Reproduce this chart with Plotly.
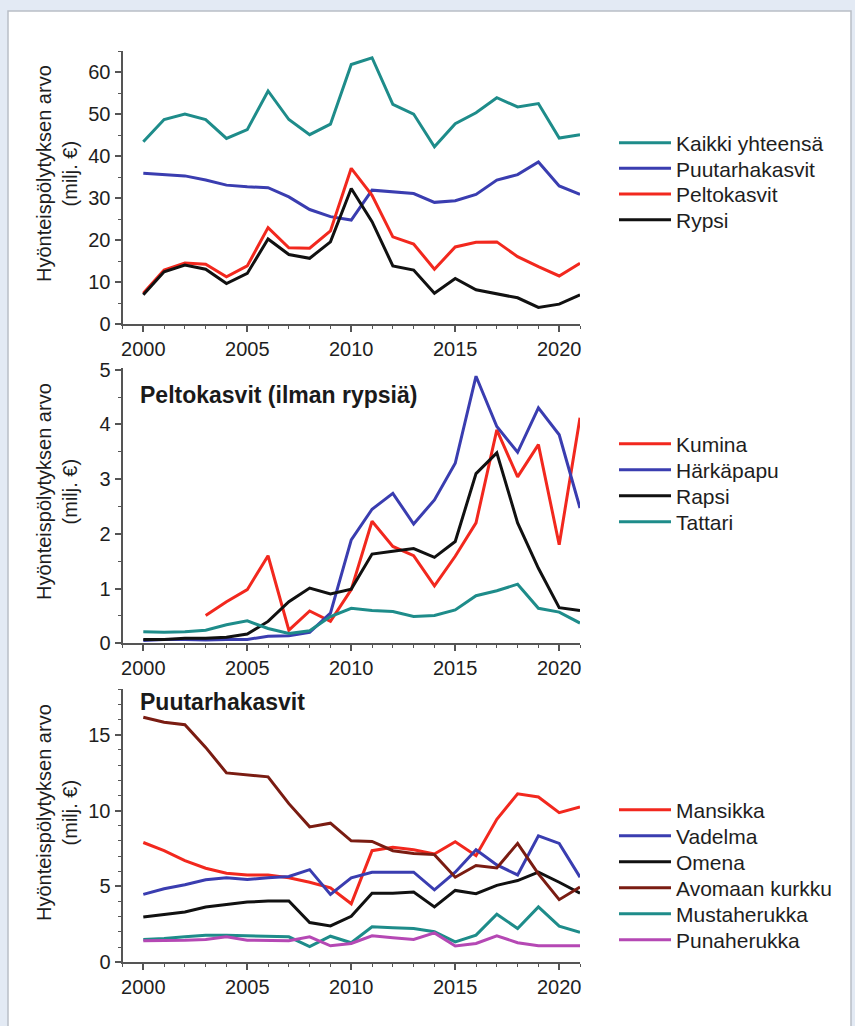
import plotly.graph_objects as go

years = list(range(2000, 2022))

# Panel 1 (milj. €)
kaikki = [43.4, 48.7, 50.0, 48.7, 44.2, 46.3, 55.5, 48.7, 45.1, 47.6, 61.8, 63.4,
          52.3, 50.0, 42.2, 47.7, 50.3, 53.9, 51.7, 52.5, 44.3, 45.1]
puutarha = [35.9, 35.6, 35.3, 34.3, 33.1, 32.7, 32.5, 30.3, 27.3, 25.6, 24.8, 31.9,
            31.5, 31.1, 29.0, 29.4, 30.9, 34.3, 35.6, 38.6, 32.9, 30.9]
pelto = [7.4, 12.9, 14.6, 14.3, 11.3, 13.9, 23.0, 18.2, 18.1, 22.2, 37.1, 30.7,
         20.8, 19.1, 13.1, 18.4, 19.5, 19.6, 16.1, 13.7, 11.5, 14.5]
rypsi = [7.0, 12.5, 14.1, 13.1, 9.7, 12.1, 20.3, 16.6, 15.7, 19.6, 32.3, 24.4,
         13.9, 12.9, 7.4, 10.9, 8.2, 7.2, 6.3, 4.0, 4.8, 7.0]

# Panel 2 (milj. €)
kumina = [None, None, None, 0.51, 0.76, 0.98, 1.60, 0.24, 0.59, 0.40, 0.98, 2.23,
          1.77, 1.60, 1.05, 1.59, 2.20, 3.90, 3.04, 3.63, 1.80, 4.12]
harkapapu = [0.05, 0.07, 0.07, 0.06, 0.07, 0.07, 0.13, 0.14, 0.20, 0.55, 1.89, 2.45,
             2.74, 2.18, 2.62, 3.29, 4.88, 3.96, 3.49, 4.30, 3.81, 2.47]
rapsi = [0.07, 0.07, 0.09, 0.09, 0.11, 0.17, 0.40, 0.76, 1.01, 0.90, 0.99, 1.63,
         1.68, 1.73, 1.57, 1.86, 3.10, 3.48, 2.20, 1.37, 0.65, 0.60]
tattari = [0.21, 0.20, 0.21, 0.24, 0.34, 0.41, 0.27, 0.18, 0.23, 0.49, 0.64, 0.60,
           0.58, 0.49, 0.51, 0.61, 0.87, 0.96, 1.08, 0.64, 0.57, 0.37]

# Panel 3 (milj. €)
mansikka = [7.90, 7.36, 6.70, 6.20, 5.87, 5.76, 5.76, 5.57, 5.28, 4.91, 3.86, 7.36,
            7.58, 7.42, 7.14, 7.95, 7.03, 9.43, 11.11, 10.90, 9.87, 10.24]
vadelma = [4.48, 4.85, 5.11, 5.44, 5.57, 5.46, 5.57, 5.66, 6.11, 4.48, 5.57, 5.94,
           5.94, 5.94, 4.78, 5.94, 7.42, 6.42, 5.76, 8.34, 7.84, 5.61]
omena = [2.99, 3.14, 3.32, 3.65, 3.82, 3.97, 4.04, 4.04, 2.62, 2.40, 3.03, 4.56,
         4.56, 4.63, 3.65, 4.74, 4.52, 5.07, 5.39, 5.94, 5.28, 4.56]
kurkku = [16.16, 15.83, 15.66, 14.17, 12.49, 12.34, 12.23, 10.46, 8.93, 9.17, 8.01, 7.97,
          7.36, 7.18, 7.10, 5.61, 6.38, 6.22, 7.84, 5.83, 4.13, 4.96]
mustaherukka = [1.51, 1.57, 1.68, 1.79, 1.79, 1.75, 1.75, 1.68, 1.03, 1.72, 1.29, 2.34,
                2.27, 2.23, 2.01, 1.35, 1.79, 3.17, 2.23, 3.65, 2.38, 1.97]
punaherukka = [1.42, 1.42, 1.46, 1.51, 1.68, 1.46, 1.46, 1.42, 1.68, 1.09, 1.24, 1.75,
               1.62, 1.51, 1.94, 1.07, 1.24, 1.75, 1.29, 1.09, 1.09, 1.09]

TEAL = "#1e8c8a"
BLUE = "#3a3db0"
RED = "#f2281e"
BLACK = "#111111"
BROWN = "#7a1c12"
MAGENTA = "#b548b4"

W, H = 855, 1026
FONT = "Liberation Sans, Arial, sans-serif"
TXT = "#1e1e1e"

panels = [
    ("", [("Kaikki yhteensä", kaikki, TEAL), ("Puutarhakasvit", puutarha, BLUE),
          ("Peltokasvit", pelto, RED), ("Rypsi", rypsi, BLACK)],
     [0, 65], 10, 5, 51, 324.3, 143, 25.7),
    ("2", [("Kumina", kumina, RED), ("Härkäpapu", harkapapu, BLUE),
           ("Rapsi", rapsi, BLACK), ("Tattari", tattari, TEAL)],
     [0, 5.03], 1, 0.5, 368, 643.3, 444, 26),
    ("3", [("Mansikka", mansikka, RED), ("Vadelma", vadelma, BLUE),
           ("Omena", omena, BLACK), ("Avomaan kurkku", kurkku, BROWN),
           ("Mustaherukka", mustaherukka, TEAL), ("Punaherukka", punaherukka, MAGENTA)],
     [0, 18], 5, 1, 689.3, 962.3, 810, 26),
]

fig = go.Figure()
layout = {}
legend_idx = 0
x0_px, x1_px = 122.5, 580

for suffix, traces, yr, dt, mdt, top, bot, ltop, lstep in panels:
    for i, (name, vals, col) in enumerate(traces):
        legend_idx += 1
        lname = "legend" if legend_idx == 1 else f"legend{legend_idx}"
        fig.add_trace(go.Scatter(
            x=years, y=vals, name=name, mode="lines",
            line=dict(color=col, width=3),
            xaxis="x" + suffix, yaxis="y" + suffix,
            legend=lname, connectgaps=False,
        ))
        layout[lname] = dict(
            x=614 / W, y=1 - (ltop + i * lstep) / H, xanchor="left", yanchor="middle",
            bgcolor="rgba(0,0,0,0)", borderwidth=0, itemwidth=52,
            font=dict(family=FONT, size=21, color=TXT),
            itemclick=False, itemdoubleclick=False,
        )
    xa = "xaxis" + suffix
    ya = "yaxis" + suffix
    layout[xa] = dict(
        domain=[x0_px / W, x1_px / W], range=[1999, 2021], anchor="y" + suffix,
        automargin=False,
        showgrid=False, zeroline=False, showline=True, linecolor="#555", linewidth=2,
        ticks="outside", ticklen=6, tickwidth=1.5, tickcolor="#555",
        tick0=2000, dtick=5,
        minor=dict(ticks="outside", ticklen=3, tickwidth=1.2, tickcolor="#555", dtick=1, tick0=2000),
        tickfont=dict(family=FONT, size=20, color=TXT), fixedrange=True,
    )
    layout[ya] = dict(
        domain=[1 - bot / H, 1 - top / H], range=yr, anchor="x" + suffix,
        automargin=False,
        showgrid=False, zeroline=False, showline=True, linecolor="#555", linewidth=2,
        ticks="outside", ticklen=6, tickwidth=1.5, tickcolor="#555",
        tick0=0, dtick=dt,
        minor=dict(ticks="outside", ticklen=3, tickwidth=1.2, tickcolor="#555", dtick=mdt, tick0=0),
        tickfont=dict(family=FONT, size=20, color=TXT), fixedrange=True,
    )

annotations = []
for cy in (174, 492, 813):
    annotations.append(dict(
        text="Hyönteispölytyksen arvo<br>(milj. €)", textangle=-90,
        x=57 / W, y=1 - cy / H, xref="paper", yref="paper",
        xanchor="center", yanchor="middle", showarrow=False,
        font=dict(family=FONT, size=20, color=TXT),
    ))
annotations.append(dict(
    text="<b>Peltokasvit (ilman rypsiä)</b>", x=138 / W, y=1 - 395 / H,
    xref="paper", yref="paper", xanchor="left", yanchor="middle", showarrow=False,
    font=dict(family=FONT, size=23, color="#1a1a1a"),
))
annotations.append(dict(
    text="<b>Puutarhakasvit</b>", x=138 / W, y=1 - 702 / H,
    xref="paper", yref="paper", xanchor="left", yanchor="middle", showarrow=False,
    font=dict(family=FONT, size=23, color="#1a1a1a"),
))

shapes = [dict(
    type="rect", xref="paper", yref="paper",
    x0=8 / W, x1=851 / W, y0=-0.02, y1=1 - 11 / H,
    line=dict(color="#b9bec6", width=1.5), fillcolor="white", layer="below",
)]

fig.update_layout(
    template="none",
    width=W, height=H,
    margin=dict(l=0, r=0, t=0, b=0, pad=0, autoexpand=False),
    paper_bgcolor="#e3eaf4", plot_bgcolor="rgba(0,0,0,0)",
    showlegend=True, annotations=annotations, shapes=shapes,
    **layout,
)

fig.write_html(
    "out.html",
    config={"displayModeBar": False},
    post_script="document.body.style.margin='0';document.body.style.overflow='hidden';",
)
